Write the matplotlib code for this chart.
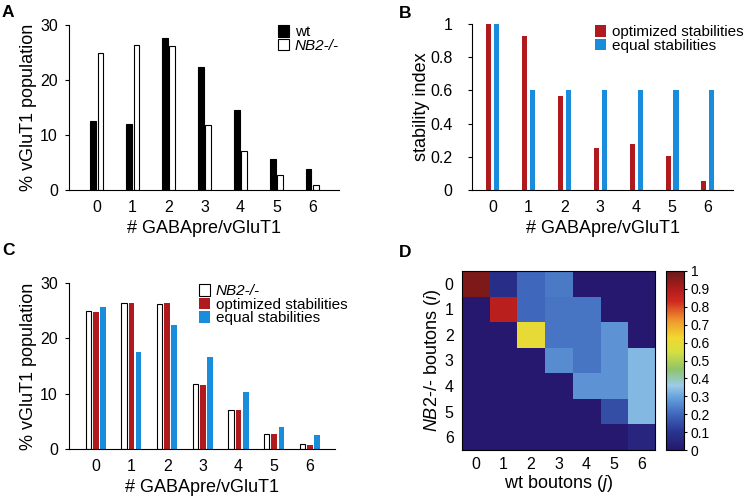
import numpy as np
import matplotlib
matplotlib.use("Agg")
import matplotlib.pyplot as plt
from matplotlib.colors import LinearSegmentedColormap

plt.rcParams['font.family'] = ['Liberation Sans', 'DejaVu Sans']
plt.rcParams['mathtext.fontset'] = 'custom'
plt.rcParams['mathtext.rm'] = 'Liberation Sans'
plt.rcParams['mathtext.it'] = 'Liberation Sans:italic'

# --- Data ---
counts = [0, 1, 2, 3, 4, 5, 6]
wt_pop = [12.6, 12.0, 27.7, 22.3, 14.6, 5.7, 3.8]
nb2_pop = [25.0, 26.3, 26.2, 11.8, 7.1, 2.8, 0.85]

opt_stab = [1.0, 0.93, 0.565, 0.252, 0.28, 0.206, 0.056]
equal_stab = [1.0, 0.6, 0.6, 0.6, 0.6, 0.6, 0.6]

opt_pop = [24.7, 26.4, 26.4, 11.6, 7.0, 2.8, 0.7]
equal_pop = [25.7, 17.6, 22.5, 16.7, 10.3, 4.0, 2.5]

# transition matrix: rows = NB2-/- boutons (i), cols = wt boutons (j)
trans_row0 = [0.97, 0.08, 0.20, 0.23, 0.0, 0.0, 0.0]
trans_row1 = [0.0, 0.88, 0.20, 0.22, 0.22, 0.0, 0.0]
trans_row2 = [0.0, 0.0, 0.60, 0.22, 0.22, 0.27, 0.0]
trans_row3 = [0.0, 0.0, 0.0, 0.26, 0.22, 0.27, 0.33]
trans_row4 = [0.0, 0.0, 0.0, 0.0, 0.27, 0.27, 0.33]
trans_row5 = [0.0, 0.0, 0.0, 0.0, 0.0, 0.15, 0.33]
trans_row6 = [0.0, 0.0, 0.0, 0.0, 0.0, 0.0, 0.05]

RED = '#b0191e'
BLUE = '#1a8cdc'

cmap = LinearSegmentedColormap.from_list('muted_jet', [
    (0.0, '#25186e'), (0.1, '#2a3590'), (0.2, '#3f68bd'), (0.3, '#6aa6e0'),
    (0.36, '#9dcbe8'), (0.45, '#8cc46c'), (0.55, '#d8df40'), (0.63, '#f2d830'),
    (0.73, '#ef922e'), (0.83, '#d02a20'), (0.9, '#b01c1c'), (1.0, '#6a1a18')])

fig = plt.figure(figsize=(7.45, 4.96), dpi=100)
W, H = 745.0, 496.0
TICK_FS = 11.5
LABEL_FS = 13
LEG_FS = 11


def add_ax(x0, y0, x1, y1):
    return fig.add_axes([x0 / W, 1 - y1 / H, (x1 - x0) / W, (y1 - y0) / H])


def fig_pt(px, py):
    return (px / W, 1 - py / H)


def style_bar_ax(ax, ypad=5):
    ax.spines['top'].set_visible(False)
    ax.spines['right'].set_visible(False)
    ax.tick_params(axis='x', length=0, labelsize=TICK_FS, pad=7)
    ax.tick_params(axis='y', length=3, labelsize=TICK_FS, direction='out', pad=ypad)
    ax.set_xticks(counts)
    ax.set_xlabel('# GABApre/vGluT1', fontsize=LABEL_FS, labelpad=4)


def add_legend(ax, px, py):
    return ax.legend(loc='upper left', bbox_to_anchor=fig_pt(px, py),
                     bbox_transform=fig.transFigure, frameon=False, fontsize=LEG_FS,
                     borderpad=0, borderaxespad=0, handlelength=0.7, handleheight=0.8,
                     handletextpad=0.4, labelspacing=-0.04)


x = np.array(counts)

# --- Panel A ---
axA = add_ax(69, 25, 339, 190)
axA.bar(x - 0.1, wt_pop, 0.15, color='black', edgecolor='black', linewidth=0.8, label='wt')
axA.bar(x + 0.1, nb2_pop, 0.15, color='white', edgecolor='black', linewidth=0.8, label='NB2-/-')
axA.set_xlim(-0.77, 6.74)
axA.set_ylim(0, 30)
axA.set_yticks([0, 10, 20, 30])
axA.set_ylabel('% vGluT1 population', fontsize=LABEL_FS, labelpad=2)
style_bar_ax(axA)
legA = add_legend(axA, 278, 25)
legA.get_texts()[1].set_fontstyle('italic')

# --- Panel B ---
axB = add_ax(472, 24, 733, 190)
axB.bar(x - 0.11, opt_stab, 0.14, color=RED, label='optimized stabilities')
axB.bar(x + 0.11, equal_stab, 0.14, color=BLUE, label='equal stabilities')
axB.set_xlim(-0.58, 6.7)
axB.set_ylim(0, 1)
axB.set_yticks([0, 0.2, 0.4, 0.6, 0.8, 1])
axB.set_yticklabels(['0', '0.2', '0.4', '0.6', '0.8', '1'])
axB.set_ylabel('stability index', fontsize=LABEL_FS, labelpad=0)
style_bar_ax(axB, ypad=11)
add_legend(axB, 595, 25)

# --- Panel C ---
axC = add_ax(69, 283, 335, 449)
axC.bar(x - 0.21, nb2_pop, 0.15, color='white', edgecolor='black', linewidth=0.8, label='NB2-/-')
axC.bar(x, opt_pop, 0.16, color=RED, label='optimized stabilities')
axC.bar(x + 0.2, equal_pop, 0.16, color=BLUE, label='equal stabilities')
axC.set_xlim(-0.75, 6.7)
axC.set_ylim(0, 30)
axC.set_yticks([0, 10, 20, 30])
axC.set_ylabel('% vGluT1 population', fontsize=LABEL_FS, labelpad=2)
style_bar_ax(axC)
legC = add_legend(axC, 199, 284)
legC.get_texts()[0].set_fontstyle('italic')

# --- Panel D ---
axD = add_ax(462, 271, 655, 450)
trans = np.array([trans_row0, trans_row1, trans_row2, trans_row3,
                  trans_row4, trans_row5, trans_row6])
im = axD.imshow(trans, cmap=cmap, vmin=0, vmax=1, aspect='auto', interpolation='nearest')
axD.set_xticks(counts)
axD.set_yticks(counts)
axD.tick_params(axis='y', length=0, labelsize=TICK_FS, pad=6)
axD.tick_params(axis='x', length=0, labelsize=TICK_FS, pad=5)
axD.set_xlabel('wt boutons ($\\mathit{j}$)', fontsize=LABEL_FS, labelpad=1)
axD.set_ylabel('$\\mathit{NB2}$-/- boutons ($\\mathit{i}$)', fontsize=LABEL_FS, labelpad=1)

cax = add_ax(666, 271, 684, 450)
cb = fig.colorbar(im, cax=cax)
cb.set_ticks(np.arange(0, 1.01, 0.1))
cb.set_ticklabels(['0', '0.1', '0.2', '0.3', '0.4', '0.5', '0.6', '0.7', '0.8', '0.9', '1'])
cb.ax.tick_params(labelsize=10, length=2, direction='out', pad=3)
cb.outline.set_linewidth(0.8)

# --- Panel letters ---
for lbl, px, py in [('A', 2, 17), ('B', 399, 18), ('C', 2, 255), ('D', 399, 257)]:
    fig.text(px / W, 1 - py / H, lbl, fontsize=12.5, fontweight='bold')

fig.savefig('out.png', dpi=100)
